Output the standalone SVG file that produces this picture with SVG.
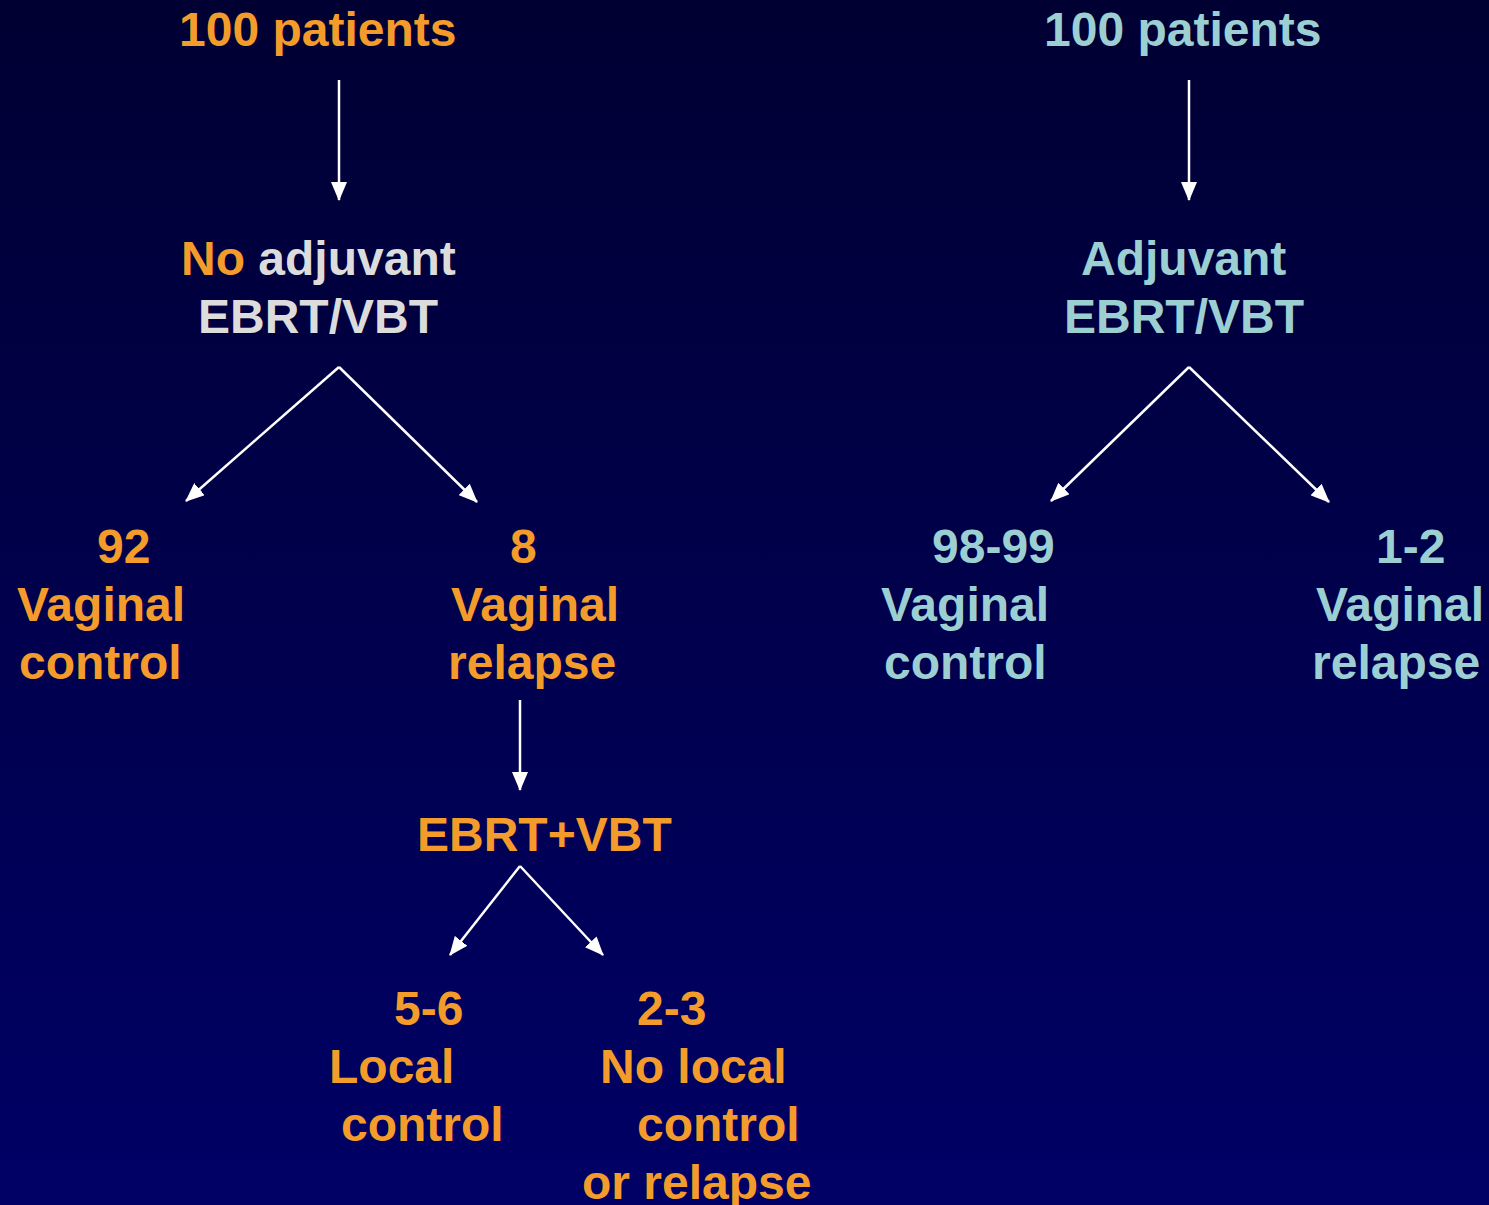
<svg xmlns="http://www.w3.org/2000/svg" width="1489" height="1205" viewBox="0 0 1489 1205">
<style>
text{font-family:"Liberation Sans",Arial,sans-serif;font-weight:bold;font-size:48px}
.o{fill:#F39C2C}.t{fill:#9CCFD2}.g{fill:#DCDCDC}
.c line{stroke:#FFFFFF;stroke-width:2.5;marker-end:url(#ah)}
</style>
<defs>
<linearGradient id="bg" x1="0" y1="0" x2="0" y2="1">
<stop offset="0" stop-color="#000033"/>
<stop offset="1" stop-color="#000066"/>
</linearGradient>
<marker id="ah" markerUnits="userSpaceOnUse" markerWidth="20" markerHeight="16" refX="18" refY="8" orient="auto">
<path d="M0,0 L19,8 L0,16 Z" fill="#FFFFFF"/>
</marker>
</defs>
<rect width="1489" height="1205" fill="url(#bg)"/>
<g id="left-start"><text class="o" x="179" y="46">100 patients</text></g>
<g id="right-start"><text class="t" x="1044" y="46">100 patients</text></g>
<g id="no-adjuvant"><text x="181" y="275"><tspan class="o">No</tspan><tspan class="g"> adjuvant</tspan></text><text class="g" x="198" y="333">EBRT/VBT</text></g>
<g id="adjuvant"><text class="t" x="1081" y="275">Adjuvant</text><text class="t" x="1064" y="333">EBRT/VBT</text></g>
<g id="n92"><text class="o" x="97" y="563">92</text><text class="o" x="17" y="621">Vaginal</text><text class="o" x="19" y="679">control</text></g>
<g id="n8"><text class="o" x="510" y="563">8</text><text class="o" x="451" y="621">Vaginal</text><text class="o" x="448" y="679">relapse</text></g>
<g id="n9899"><text class="t" x="932" y="563">98-99</text><text class="t" x="881" y="621">Vaginal</text><text class="t" x="884" y="679">control</text></g>
<g id="n12"><text class="t" x="1376" y="563">1-2</text><text class="t" x="1316" y="621">Vaginal</text><text class="t" x="1312" y="679">relapse</text></g>
<g id="ebrt-vbt"><text class="o" x="417" y="851">EBRT+VBT</text></g>
<g id="n56"><text class="o" x="394" y="1025">5-6</text><text class="o" x="329" y="1083">Local</text><text class="o" x="341" y="1141">control</text></g>
<g id="n23"><text class="o" x="637" y="1025">2-3</text><text class="o" x="600" y="1083">No local</text><text class="o" x="637" y="1141">control</text><text class="o" x="582" y="1199">or relapse</text></g>
<g id="connectors" class="c">
<line x1="339" y1="80" x2="339" y2="200"/>
<line x1="1189" y1="80" x2="1189" y2="200"/>
<line x1="339" y1="367" x2="186" y2="501"/>
<line x1="339" y1="367" x2="477" y2="502"/>
<line x1="1189" y1="367" x2="1051" y2="501"/>
<line x1="1189" y1="367" x2="1329" y2="502"/>
<line x1="520" y1="700" x2="520" y2="790"/>
<line x1="520" y1="866" x2="450" y2="955"/>
<line x1="520" y1="866" x2="603" y2="955"/>
</g>
</svg>
